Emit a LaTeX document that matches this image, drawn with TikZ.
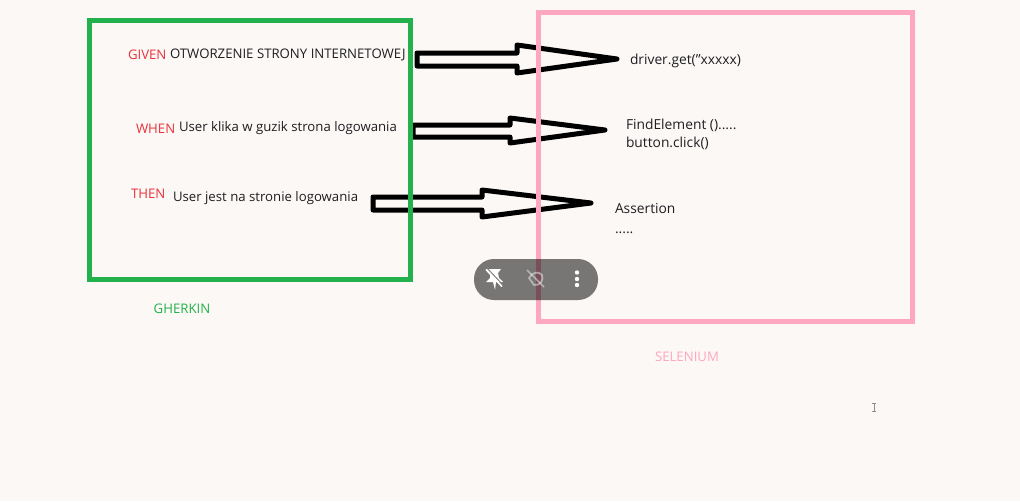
\documentclass[tikz,border=0pt]{standalone}
\usepackage{fontspec}
\setmainfont{Open Sans}[Ligatures=ResetAll]
\definecolor{bgc}{HTML}{FCF8F5}
\definecolor{gherkin}{HTML}{22B14C}
\definecolor{selen}{HTML}{FFA6C0}
\definecolor{redtxt}{HTML}{E8323C}
\definecolor{inktxt}{HTML}{1E1E22}
\tikzset{
  every node/.style={inner sep=0pt,outer sep=0pt,font=\fontsize{13.2}{18}\selectfont},
  blockarrow/.style={draw=black,line width=5pt,line join=round,fill=none},
  frameline/.style={line width=5pt},
  kw/.style={text=redtxt,anchor=west},
  body/.style={text=inktxt,anchor=west},
  code/.style={text=inktxt,anchor=west,align=left,font=\fontsize{13.8}{18}\selectfont},
  caption/.style={anchor=center},
  pill/.style={fill=black,opacity=.52,rounded corners=20pt}
}
\begin{document}
\begin{tikzpicture}[x=1pt,y=-1pt]
\useasboundingbox (0,0) rectangle (1020,501);
\fill[bgc] (0,0) rectangle (1020,501);
% block arrows
\draw[blockarrow] (417,53) -- (517,53) -- (517,45) -- (617,59) -- (517,73) -- (517,66) -- (417,66) -- cycle;
\draw[blockarrow] (413,125) -- (510,125) -- (510,118) -- (605,130) -- (510,143) -- (510,137) -- (413,137) -- cycle;
\draw[blockarrow] (373,197) -- (482,197) -- (482,190) -- (591,203) -- (482,217) -- (482,210) -- (373,210) -- cycle;
% frames
\draw[gherkin,frameline] (89.5,20.5) rectangle (410,279);
\draw[selen,frameline] (538.5,12.5) rectangle (912.5,321);
% text
\node[kw] (g1) at (128,54.5) {GIVEN};
\node[body] (g2) at (170,55) {OTWORZENIE STRONY INTERNETOWEJ};
\node[kw] (w1) at (136,129) {WHEN};
\node[body] (w2) at (179,128.5) {User klika w guzik strona logowania};
\node[kw] (t1) at (131,194) {THEN};
\node[body] (t2) at (173,198.5) {User jest na stronie logowania};
\node[code] (s1) at (630,60.5) {driver.get("xxxxx)};
\node[code] (s2) at (626,134) {FindElement ().....\\button.click()};
\node[code] (s3) at (615,218.5) {Assertion\\[2pt].....};
\node[caption,text=gherkin] (cg) at (182,308.5) {GHERKIN};
\node[caption,text=selen] (cs) at (687,357) {SELENIUM};
% toolbar
\fill[pill] (474,259) rectangle (598,300);
% pin-off icon
\fill[white] (487,269) -- (501,269) -- (498,273) -- (499,278) -- (503,282) -- (496,282) -- (495,290) -- (493,282) -- (486,282) -- (490,278) -- (490,273) -- cycle;
\draw[black!50,line width=1pt] (487,268) -- (503,285);
\draw[white,line width=1.6pt] (486,269.5) -- (502,286.5);
% muted-eye icon
\draw[white,opacity=.45,line width=1.8pt] (529,278) .. controls (532,272) and (539,271) .. (542,275) .. controls (544,280) and (540,286) .. (534,285) -- cycle;
\draw[white,opacity=.45,line width=1.6pt] (527,270) -- (544,287);
% menu dots
\fill[white] (577,272.5) circle (2.2pt) (577,279) circle (2.2pt) (577,285) circle (2.2pt);
% text cursor
\draw[black!45,line width=.8pt] (872,403) -- (876,403) (874,403) -- (874,411.5) (872,411.5) -- (876,411.5);
\end{tikzpicture}
\end{document}
